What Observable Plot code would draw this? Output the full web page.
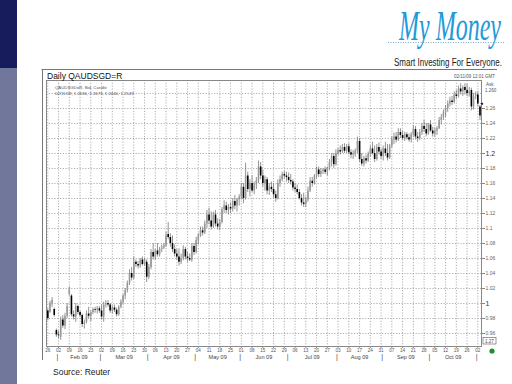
<!DOCTYPE html>
<html><head><meta charset="utf-8">
<script src="https://cdn.jsdelivr.net/npm/d3@7"></script>
<script src="https://cdn.jsdelivr.net/npm/@observablehq/plot@0.6"></script>
<style>
html,body{margin:0;padding:0;background:#fff;width:512px;height:384px;overflow:hidden}
#wrap{position:relative;width:512px;height:384px}
#chart,#deco{position:absolute;left:0;top:0}
#deco{pointer-events:none}
</style></head><body>
<div id="wrap">
<div id="chart"></div>
<svg id="deco" width="512" height="384" font-family="Liberation Sans, Arial, sans-serif">
  <rect x="0" y="0" width="17" height="68" fill="#161c5c"/>
  <rect x="0" y="68" width="17" height="316" fill="#70779a"/>
  <text id="logo" x="0" y="0" font-size="42" font-style="italic" font-family="Liberation Serif, serif" fill="#1f9ad8">My Money</text>
  <line x1="388" y1="42.5" x2="505" y2="42.5" stroke="#5a8fb8" stroke-width="0.8" stroke-dasharray="1,1.5"/>
  <text id="tag" x="0" y="0" font-size="11.5" font-family="Liberation Sans Narrow, Liberation Sans, Arial, sans-serif" fill="#222">Smart Investing For Everyone.</text>
  <line x1="41.5" y1="69.5" x2="497" y2="69.5" stroke="#777" stroke-width="1"/>
  <line x1="42.5" y1="69" x2="42.5" y2="360" stroke="#777" stroke-width="1"/>
  <text x="47" y="79" font-size="8.5" fill="#111">Daily QAUDSGD=R</text>
  <text x="495" y="78" font-size="4.5" fill="#555" text-anchor="end">02/11/09   12:01 GMT</text>
  <text x="55" y="89" font-size="4.3" fill="#555">QAUDSGD=R, Bid, Candle</text>
  <text x="55" y="95" font-size="4.3" fill="#555">02/11/09, 1.2636, 1.2673, 1.2440, 1.2549</text>
  <text x="486" y="86" font-size="4.5" fill="#555">Ask</text>
  <text x="485" y="92" font-size="4.5" fill="#555">1.260</text>
  <rect x="483" y="337.5" width="13" height="6.5" fill="#fff" stroke="#555" stroke-width="0.6"/>
  <text x="489.5" y="342.6" font-size="4.5" fill="#444" text-anchor="middle">1.27</text>
  <circle cx="492" cy="351" r="2.6" fill="#1f8f2a"/>
  <text x="53" y="375" font-size="8.5" fill="#222">Source: Reuter</text>
</svg>
</div>
<script>
const openP=[.990,.988,1.000,.992,.964,.958,.955,.978,.970,.983,
1.012,1.010,.985,.982,.996,.988,.984,.972,.975,.986,
.983,.988,.992,.991,.993,.990,.982,.998,1.000,.998,
.990,.994,.991,.985,.995,1.002,1.010,1.017,1.027,1.040,
1.034,1.055,1.052,1.050,1.058,1.052,1.055,1.035,1.048,1.068,
1.062,1.070,1.065,1.072,1.074,1.077,1.092,1.088,1.080,1.072,
1.066,1.062,1.055,1.060,1.072,1.062,1.060,1.058,1.076,1.068,
1.084,1.090,1.097,1.094,1.106,1.118,1.110,1.102,1.118,1.106,
1.102,1.108,1.125,1.130,1.124,1.128,1.126,1.136,1.130,1.138,
1.142,1.155,1.140,1.170,1.152,1.160,1.150,1.158,1.164,1.182,
1.170,1.160,1.165,1.150,1.155,1.152,1.145,1.140,1.160,1.165,
1.172,1.170,1.168,1.164,1.162,1.154,1.152,1.148,1.140,1.134,
1.132,1.138,1.150,1.163,1.160,1.170,1.178,1.172,1.176,1.178,
1.175,1.180,1.188,1.196,1.185,1.200,1.204,1.202,1.208,1.203,
1.209,1.201,1.198,1.200,1.203,1.216,1.192,1.186,1.193,1.190,
1.199,1.206,1.200,1.192,1.208,1.202,1.196,1.206,1.200,1.194,
1.210,1.218,1.222,1.218,1.228,1.224,1.220,1.225,1.221,1.218,
1.225,1.232,1.222,1.220,1.228,1.236,1.232,1.226,1.238,1.230,
1.226,1.230,1.233,1.244,1.248,1.254,1.260,1.266,1.270,1.268,
1.278,1.276,1.286,1.282,1.288,1.284,1.280,1.284,1.262,1.276,
1.278,1.262];
const highP=[.993,1.003,1.008,.994,.966,.963,.982,.984,.987,1.000,
1.022,1.012,.990,1.000,.998,.990,.986,.978,.990,.995,
.990,.994,.995,.996,.996,.998,1.002,1.004,1.004,1.000,
.997,.998,.994,.997,1.005,1.012,1.020,1.030,1.045,1.048,
1.062,1.058,1.056,1.060,1.062,1.060,1.058,1.052,1.072,1.080,
1.072,1.080,1.075,1.078,1.080,1.095,1.108,1.093,1.090,1.078,
1.072,1.073,1.066,1.077,1.075,1.068,1.066,1.080,1.080,1.088,
1.093,1.102,1.102,1.110,1.124,1.127,1.122,1.122,1.124,1.113,
1.112,1.128,1.137,1.135,1.132,1.134,1.140,1.144,1.140,1.145,
1.160,1.160,1.187,1.175,1.165,1.170,1.162,1.168,1.190,1.188,
1.178,1.170,1.168,1.160,1.162,1.160,1.150,1.165,1.170,1.175,
1.176,1.175,1.174,1.172,1.165,1.160,1.158,1.152,1.145,1.147,
1.142,1.155,1.168,1.168,1.172,1.182,1.182,1.180,1.180,1.182,
1.182,1.192,1.200,1.200,1.205,1.207,1.210,1.212,1.213,1.212,
1.213,1.205,1.204,1.206,1.222,1.220,1.200,1.196,1.198,1.202,
1.210,1.215,1.210,1.212,1.214,1.206,1.210,1.215,1.212,1.212,
1.222,1.227,1.228,1.233,1.233,1.230,1.228,1.228,1.226,1.228,
1.237,1.236,1.228,1.232,1.240,1.244,1.240,1.240,1.244,1.235,
1.234,1.236,1.248,1.252,1.258,1.264,1.270,1.275,1.276,1.282,
1.284,1.290,1.293,1.290,1.293,1.292,1.288,1.287,1.280,1.282,
1.282,1.264];
const lowP=[.977,.987,.995,.982,.955,.953,.951,.967,.965,.980,
1.010,.982,.978,.975,.985,.981,.968,.966,.973,.980,
.976,.985,.987,.986,.987,.978,.975,.994,.995,.987,
.986,.988,.982,.983,.993,.999,1.005,1.014,1.024,1.030,
1.032,1.048,1.046,1.047,1.050,1.050,1.028,1.032,1.045,1.058,
1.058,1.062,1.062,1.068,1.072,1.075,1.085,1.075,1.068,1.062,
1.058,1.050,1.052,1.057,1.058,1.055,1.056,1.055,1.064,1.066,
1.078,1.088,1.090,1.092,1.100,1.105,1.098,1.100,1.102,1.098,
1.097,1.106,1.120,1.120,1.118,1.120,1.122,1.125,1.122,1.130,
1.138,1.133,1.138,1.148,1.142,1.148,1.145,1.152,1.160,1.165,
1.155,1.150,1.145,1.144,1.148,1.140,1.135,1.138,1.155,1.162,
1.166,1.162,1.160,1.158,1.150,1.148,1.145,1.138,1.130,1.128,
1.128,1.135,1.148,1.155,1.158,1.166,1.168,1.168,1.172,1.172,
1.170,1.177,1.182,1.180,1.183,1.197,1.198,1.200,1.200,1.200,
1.198,1.193,1.192,1.195,1.200,1.188,1.183,1.182,1.186,1.188,
1.195,1.198,1.188,1.190,1.198,1.192,1.190,1.196,1.190,1.192,
1.207,1.212,1.214,1.216,1.220,1.217,1.216,1.218,1.215,1.214,
1.222,1.218,1.215,1.217,1.224,1.228,1.222,1.224,1.228,1.222,
1.222,1.224,1.232,1.238,1.244,1.248,1.255,1.262,1.264,1.266,
1.272,1.274,1.278,1.276,1.278,1.276,1.275,1.257,1.258,1.272,
1.262,1.244];
const closeP=[.980,1.000,1.004,.984,.958,.957,.978,.970,.983,.996,
1.018,.985,.982,.996,.988,.984,.972,.975,.986,.983,
.988,.992,.991,.993,.990,.982,.998,1.000,.998,.990,
.994,.991,.985,.995,1.002,1.010,1.017,1.027,1.040,1.034,
1.055,1.052,1.050,1.058,1.052,1.058,1.035,1.048,1.068,1.062,
1.070,1.065,1.072,1.074,1.077,1.090,1.088,1.080,1.072,1.066,
1.062,1.055,1.060,1.072,1.062,1.060,1.058,1.076,1.068,1.084,
1.090,1.097,1.094,1.106,1.118,1.110,1.102,1.118,1.106,1.102,
1.108,1.125,1.130,1.124,1.128,1.126,1.136,1.130,1.138,1.142,
1.155,1.140,1.170,1.152,1.160,1.150,1.158,1.164,1.182,1.170,
1.160,1.165,1.150,1.155,1.152,1.145,1.140,1.160,1.165,1.172,
1.170,1.168,1.164,1.162,1.154,1.152,1.148,1.140,1.134,1.132,
1.138,1.150,1.163,1.160,1.170,1.178,1.172,1.176,1.178,1.175,
1.180,1.188,1.196,1.185,1.200,1.204,1.202,1.208,1.203,1.209,
1.201,1.198,1.200,1.203,1.216,1.192,1.186,1.193,1.190,1.199,
1.206,1.200,1.192,1.208,1.202,1.196,1.206,1.200,1.194,1.210,
1.218,1.222,1.218,1.228,1.224,1.220,1.225,1.221,1.218,1.225,
1.232,1.222,1.220,1.228,1.236,1.232,1.226,1.238,1.230,1.226,
1.230,1.233,1.244,1.248,1.254,1.260,1.266,1.270,1.268,1.278,
1.276,1.286,1.282,1.288,1.284,1.280,1.282,1.262,1.276,1.278,
1.266,1.250];
const weekLabels=["26","02","09","16","23","02","09","16","23","30","06","13","20","27","04","11","18","25","01","08","15","22","29","06","13","20","27","03","10","17","24","31","07","14","21","28","05","12","19","26","02"];
const monthLabels=["Feb 09","Mar 09","Apr 09","May 09","Jun 09","Jul 09","Aug 09","Sep 09","Oct 09"];
const gridValues=[0.96,0.98,1.00,1.02,1.04,1.06,1.08,1.10,1.12,1.14,1.16,1.18,1.20,1.22,1.24,1.26,1.28];
const yLabelValues=[0.96,0.98,1.02,1.04,1.06,1.08,1.10,1.12,1.14,1.16,1.18,1.22,1.24,1.26];
const yMajorValues=[1.00,1.20];
const lastQuote=1.267;

// fit the slide's logo texts into their boxes
function fit(id,x,y,w,sy){const t=document.getElementById(id);const L=t.getComputedTextLength();t.setAttribute("transform",`translate(${x},${y}) scale(${w/L},${sy})`);}
fit("logo",399,40,102,1.0);
fit("tag",394,66,108,1.0);

// business-day calendar starting Monday 26 Jan 2009
const days=[];
{ const d=new Date(Date.UTC(2009,0,26));
  while(days.length<closeP.length){const wd=d.getUTCDay(); if(wd!==0&&wd!==6) days.push(new Date(d)); d.setUTCDate(d.getUTCDate()+1);} }
const bars=closeP.map((c,i)=>({i,date:days[i],open:openP[i],high:highP[i],low:lowP[i],close:c}));
const mondays=bars.filter(b=>b.date.getUTCDay()===1).map(b=>b.i);
const monthStarts=bars.filter((b,k)=>k>0&&b.date.getUTCMonth()!==bars[k-1].date.getUTCMonth()).map(b=>b.i);
const seps=monthStarts.map(i=>({x:i-0.5}));
const months=monthLabels.map((label,k)=>{const a=monthStarts[k],b=monthStarts[k+1];return {label,center:(a+b-1)/2};});
const fmt=v=>String(+v.toFixed(2));

const chart=Plot.plot({
  width:512,height:384,marginLeft:46,marginRight:31,marginTop:80,marginBottom:38,
  style:{background:"transparent",fontFamily:"Liberation Sans, Arial, sans-serif",color:"#555"},
  x:{domain:[-0.6,201.7],axis:null},
  y:{domain:[0.9427,1.2973],axis:null},
  marks:[
    Plot.ruleY(gridValues,{stroke:"#999",strokeDasharray:"1.2,1.6",strokeWidth:0.8}),
    Plot.ruleX(mondays,{stroke:"#999",strokeDasharray:"1.2,1.6",strokeWidth:0.8}),
    Plot.frame({stroke:"#888"}),
    Plot.ruleX(bars,{x:"i",y1:"low",y2:"high",stroke:"#666",strokeWidth:0.7}),
    Plot.ruleX(bars,{x:"i",y1:"open",y2:"close",stroke:d=>d.close<d.open?"#000":"#999",strokeWidth:1.6}),
    Plot.axisY(yLabelValues,{anchor:"right",tickSize:3,tickPadding:1,fontSize:5,tickFormat:fmt,fill:"#666",stroke:"#888"}),
    Plot.axisY(yMajorValues,{anchor:"right",tickSize:3,tickPadding:1,fontSize:7,tickFormat:fmt,fill:"#333",stroke:"#888"}),
    Plot.axisX(mondays,{anchor:"bottom",tickSize:2,tickPadding:0.5,fontSize:4.6,tickFormat:i=>weekLabels[mondays.indexOf(i)],fill:"#555",stroke:"#888"}),
    Plot.text(months,{x:"center",text:"label",frameAnchor:"bottom",dy:12.5,fontSize:5.6,fill:"#444"}),
    Plot.text(seps,{x:"x",text:()=>"|",frameAnchor:"bottom",dy:12.5,fontSize:7,fill:"#444"}),
    Plot.text([lastQuote],{y:d=>d,frameAnchor:"right",text:()=>"◄",dx:0,fontSize:4.5,fill:"#000",textAnchor:"middle"})
  ]
});
document.getElementById("chart").appendChild(chart);
</script>
</body></html>
